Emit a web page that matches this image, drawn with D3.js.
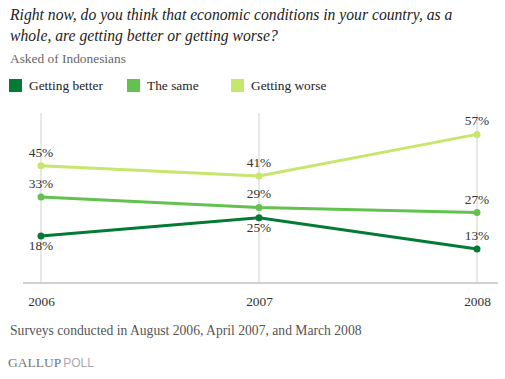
<!DOCTYPE html>
<html><head><meta charset="utf-8">
<script src="https://cdn.jsdelivr.net/npm/d3@7"></script>
<style>
body{margin:0;background:#fff;}
svg{display:block;}
text{font-family:"Liberation Serif","DejaVu Serif",serif;}
</style></head>
<body>
<script>
const years = ["2006","2007","2008"];
const seriesNames = ["Getting better","The same","Getting worse"];
const better = [18,25,13];
const same = [33,29,27];
const worse = [45,41,57];
const colors = ["#057a35","#62c14f","#c6e66c"];

const W=505,H=379;
const svg=d3.select("body").append("svg").attr("width",W).attr("height",H);

function fit(sel,target){
  sel.attr("font-size",16);
  const l=sel.node().getComputedTextLength();
  const s=16*target/l;
  sel.attr("font-size",s);
  return s;
}

const t1=svg.append("text").attr("x",10).attr("y",20).attr("font-style","italic").attr("fill","#222")
  .text("Right now, do you think that economic conditions in your country, as a");
const ts=fit(t1,443);
svg.append("text").attr("x",10).attr("y",41).attr("font-size",ts).attr("font-style","italic").attr("fill","#222")
  .text("whole, are getting better or getting worse?");
const a=svg.append("text").attr("x",10).attr("y",63).attr("fill","#666").text("Asked of Indonesians");
const as=fit(a,116);

const legendX=[9,127,231];
seriesNames.forEach((n,i)=>{
  svg.append("rect").attr("x",legendX[i]).attr("y",79).attr("width",13).attr("height",13).attr("fill",colors[i]);
  svg.append("text").attr("x",legendX[i]+20).attr("y",90).attr("font-size",as).attr("fill","#222").text(n);
});

const x=d3.scalePoint().domain(years).range([41,477]);
const y=d3.scaleLinear().domain([0,65.2]).range([283,113]);

svg.append("g").selectAll("line").data(years).join("line")
  .attr("x1",d=>x(d)).attr("x2",d=>x(d)).attr("y1",113).attr("y2",283)
  .attr("stroke","#d0d0cc").attr("stroke-width",1);
const ax=svg.append("g").attr("transform","translate(0,283)")
  .call(d3.axisBottom(x).tickSize(0).tickPadding(13));
ax.select(".domain").remove();
ax.append("line").attr("x1",23).attr("x2",498).attr("y1",0).attr("y2",0).attr("stroke","#d0d0cc").attr("stroke-width",2);
ax.selectAll(".tick text").attr("font-size",as).attr("fill","#333").attr("font-family",'"Liberation Serif",serif');

const data=[better,same,worse];
const line=d3.line().x((d,i)=>x(years[i])).y(d=>y(d));
const labelDy=[[14,14,-9],[-9,-9,-9],[-9,-9,-9]];
data.forEach((s,k)=>{
  svg.append("path").datum(s).attr("d",line).attr("fill","none").attr("stroke",colors[k]).attr("stroke-width",3);
  svg.append("g").selectAll("circle").data(s).join("circle")
    .attr("cx",(d,i)=>x(years[i])).attr("cy",d=>y(d)).attr("r",3.5).attr("fill",colors[k]);
  svg.append("g").selectAll("text").data(s).join("text")
    .attr("x",(d,i)=>x(years[i])).attr("y",(d,i)=>y(d)+labelDy[k][i])
    .attr("text-anchor","middle").attr("font-size",as).attr("fill","#333").text(d=>d+"%");
});

const f=svg.append("text").attr("x",10).attr("y",335).attr("fill","#555")
  .text("Surveys conducted in August 2006, April 2007, and March 2008");
fit(f,352);
const g=svg.append("text").attr("x",8).attr("y",367).attr("font-size",13.5);
g.append("tspan").attr("fill","#777").text("GALLUP");
g.append("tspan").attr("fill","#aaa").attr("font-family","'Liberation Sans',Arial,sans-serif").attr("font-size",12).attr("dx",2).text("POLL");
</script>
</body></html>
